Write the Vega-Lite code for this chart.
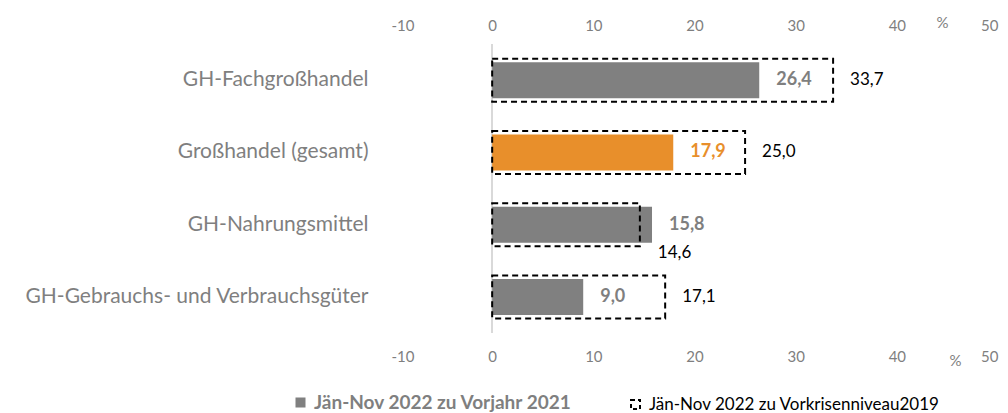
{
  "$schema": "https://vega.github.io/schema/vega-lite/v6.json",
  "autosize": {"type": "none"},
  "width": 607,
  "height": 289,
  "padding": {"left": 391, "top": 44, "right": 10, "bottom": 80},
  "background": "white",
  "config": {
    "view": {"stroke": null},
    "font": "Lato",
    "locale": {"number": {"decimal": ",", "thousands": ".", "grouping": [3], "currency": ["", " €"], "minus": "-"}}
  },
  "data": {
    "values": [
      {"cat": "GH-Fachgroßhandel", "series": "Jän-Nov 2022 zu Vorjahr 2021", "value": 26.4},
      {"cat": "GH-Fachgroßhandel", "series": "Jän-Nov 2022 zu Vorkrisenniveau2019", "value": 33.7},
      {"cat": "Großhandel (gesamt)", "series": "Jän-Nov 2022 zu Vorjahr 2021", "value": 17.9},
      {"cat": "Großhandel (gesamt)", "series": "Jän-Nov 2022 zu Vorkrisenniveau2019", "value": 25.0},
      {"cat": "GH-Nahrungsmittel", "series": "Jän-Nov 2022 zu Vorjahr 2021", "value": 15.8},
      {"cat": "GH-Nahrungsmittel", "series": "Jän-Nov 2022 zu Vorkrisenniveau2019", "value": 14.6},
      {"cat": "GH-Gebrauchs- und Verbrauchsgüter", "series": "Jän-Nov 2022 zu Vorjahr 2021", "value": 9.0},
      {"cat": "GH-Gebrauchs- und Verbrauchsgüter", "series": "Jän-Nov 2022 zu Vorkrisenniveau2019", "value": 17.1}
    ]
  },
  "resolve": {"axis": {"x": "independent"}},
  "layer": [
    {
      "mark": {"type": "rule", "color": "#d9d9d9", "strokeWidth": 1},
      "encoding": {
        "x": {
          "datum": 0, "type": "quantitative",
          "scale": {"domain": [-10, 50], "nice": false, "zero": false},
          "axis": {
            "orient": "top", "values": [-10, 0, 10, 20, 30, 40, 50], "format": "d",
            "domain": false, "ticks": false, "grid": false,
            "labelColor": "#7f7f7f", "labelFontSize": 15, "labelPadding": 11,
            "title": "%", "titleColor": "#7f7f7f", "titleFontSize": 15, "titleFontWeight": "normal",
            "titleX": 551, "titleY": -22, "titleBaseline": "middle", "titleAlign": "center", "titleAnchor": null
          }
        }
      }
    },
    {
      "transform": [{"filter": "datum.series === 'Jän-Nov 2022 zu Vorjahr 2021'"}],
      "mark": {"type": "bar", "size": 36},
      "encoding": {
        "y": {
          "field": "cat", "type": "nominal",
          "sort": ["GH-Fachgroßhandel", "Großhandel (gesamt)", "GH-Nahrungsmittel", "GH-Gebrauchs- und Verbrauchsgüter"],
          "scale": {"paddingInner": 0, "paddingOuter": 0},
          "axis": {"title": null, "domain": false, "ticks": false, "labelColor": "#7f7f7f", "labelFontSize": 21, "labelPadding": 23, "labelLimit": 400}
        },
        "x": {
          "field": "value", "type": "quantitative",
          "scale": {"domain": [-10, 50], "nice": false, "zero": false},
          "axis": {
            "orient": "bottom", "values": [-10, 0, 10, 20, 30, 40, 50], "format": "d",
            "domain": false, "ticks": false, "grid": false,
            "labelColor": "#7f7f7f", "labelFontSize": 15, "labelPadding": 16,
            "title": "%", "titleColor": "#7f7f7f", "titleFontSize": 15, "titleFontWeight": "normal",
            "titleX": 564, "titleY": 27, "titleBaseline": "middle", "titleAlign": "center", "titleAnchor": null
          }
        },
        "color": {"condition": {"test": "datum.cat === 'Großhandel (gesamt)'", "value": "#E88F2B"}, "value": "#808080"}
      }
    },
    {
      "transform": [{"filter": "datum.series === 'Jän-Nov 2022 zu Vorkrisenniveau2019'"}],
      "mark": {"type": "bar", "size": 43, "filled": false, "strokeWidth": 2, "strokeDash": [6, 4]},
      "encoding": {
        "y": {
          "field": "cat", "type": "nominal",
          "sort": ["GH-Fachgroßhandel", "Großhandel (gesamt)", "GH-Nahrungsmittel", "GH-Gebrauchs- und Verbrauchsgüter"],
          "scale": {"paddingInner": 0, "paddingOuter": 0},
          "axis": {"title": null, "domain": false, "ticks": false, "labelColor": "#7f7f7f", "labelFontSize": 21, "labelPadding": 23, "labelLimit": 400}
        },
        "x": {"field": "value", "type": "quantitative", "scale": {"domain": [-10, 50], "nice": false, "zero": false}, "axis": null},
        "stroke": {
          "field": "series", "type": "nominal",
          "scale": {"domain": ["Jän-Nov 2022 zu Vorjahr 2021", "Jän-Nov 2022 zu Vorkrisenniveau2019"], "range": ["#808080", "#000000"]},
          "legend": {
            "orient": "none", "legendX": -99, "legendY": 350, "direction": "horizontal",
            "title": null, "symbolType": "square",
            "symbolSize": {"expr": "datum.value === 'Jän-Nov 2022 zu Vorjahr 2021' ? 25 : 81"},
            "symbolStrokeWidth": {"expr": "datum.value === 'Jän-Nov 2022 zu Vorjahr 2021' ? 5 : 2"},
            "labelOffset": 5, "columnPadding": 54, "labelLimit": 400, "padding": 0,
            "labelFontSize": {"expr": "datum.value === 'Jän-Nov 2022 zu Vorjahr 2021' ? 19 : 17"},
            "symbolFillColor": {"expr": "datum.value === 'Jän-Nov 2022 zu Vorjahr 2021' ? '#808080' : 'transparent'"},
            "symbolDash": {"expr": "datum.value === 'Jän-Nov 2022 zu Vorjahr 2021' ? [50, 1] : [4, 3]"},
            "labelFontWeight": {"expr": "datum.value === 'Jän-Nov 2022 zu Vorjahr 2021' ? 'bold' : 'normal'"},
            "labelColor": {"expr": "datum.value === 'Jän-Nov 2022 zu Vorjahr 2021' ? '#7f7f7f' : '#000000'"}
          }
        }
      }
    },
    {
      "transform": [{"filter": "datum.series === 'Jän-Nov 2022 zu Vorjahr 2021'"}],
      "mark": {"type": "text", "align": "left", "baseline": "middle", "dx": 17, "fontSize": 18, "fontWeight": "bold"},
      "encoding": {
        "y": {
          "field": "cat", "type": "nominal",
          "sort": ["GH-Fachgroßhandel", "Großhandel (gesamt)", "GH-Nahrungsmittel", "GH-Gebrauchs- und Verbrauchsgüter"],
          "scale": {"paddingInner": 0, "paddingOuter": 0},
          "axis": {"title": null, "domain": false, "ticks": false, "labelColor": "#7f7f7f", "labelFontSize": 21, "labelPadding": 23, "labelLimit": 400}
        },
        "x": {"field": "value", "type": "quantitative", "scale": {"domain": [-10, 50], "nice": false, "zero": false}, "axis": null},
        "text": {"field": "value", "type": "quantitative", "format": ",.1f"},
        "color": {"condition": {"test": "datum.cat === 'Großhandel (gesamt)'", "value": "#E88F2B"}, "value": "#7f7f7f"}
      }
    },
    {
      "transform": [{"filter": "datum.series === 'Jän-Nov 2022 zu Vorkrisenniveau2019' && datum.cat !== 'GH-Nahrungsmittel'"}],
      "mark": {"type": "text", "align": "left", "baseline": "middle", "dx": 17, "fontSize": 17, "color": "#000000"},
      "encoding": {
        "y": {
          "field": "cat", "type": "nominal",
          "sort": ["GH-Fachgroßhandel", "Großhandel (gesamt)", "GH-Nahrungsmittel", "GH-Gebrauchs- und Verbrauchsgüter"],
          "scale": {"paddingInner": 0, "paddingOuter": 0},
          "axis": {"title": null, "domain": false, "ticks": false, "labelColor": "#7f7f7f", "labelFontSize": 21, "labelPadding": 23, "labelLimit": 400}
        },
        "x": {"field": "value", "type": "quantitative", "scale": {"domain": [-10, 50], "nice": false, "zero": false}, "axis": null},
        "text": {"field": "value", "type": "quantitative", "format": ",.1f"}
      }
    },
    {
      "transform": [{"filter": "datum.series === 'Jän-Nov 2022 zu Vorkrisenniveau2019' && datum.cat === 'GH-Nahrungsmittel'"}],
      "mark": {"type": "text", "align": "left", "baseline": "middle", "dx": 18, "dy": 28, "fontSize": 17, "color": "#000000"},
      "encoding": {
        "y": {
          "field": "cat", "type": "nominal",
          "sort": ["GH-Fachgroßhandel", "Großhandel (gesamt)", "GH-Nahrungsmittel", "GH-Gebrauchs- und Verbrauchsgüter"],
          "scale": {"paddingInner": 0, "paddingOuter": 0},
          "axis": {"title": null, "domain": false, "ticks": false, "labelColor": "#7f7f7f", "labelFontSize": 21, "labelPadding": 23, "labelLimit": 400}
        },
        "x": {"field": "value", "type": "quantitative", "scale": {"domain": [-10, 50], "nice": false, "zero": false}, "axis": null},
        "text": {"field": "value", "type": "quantitative", "format": ",.1f"}
      }
    }
  ]
}
